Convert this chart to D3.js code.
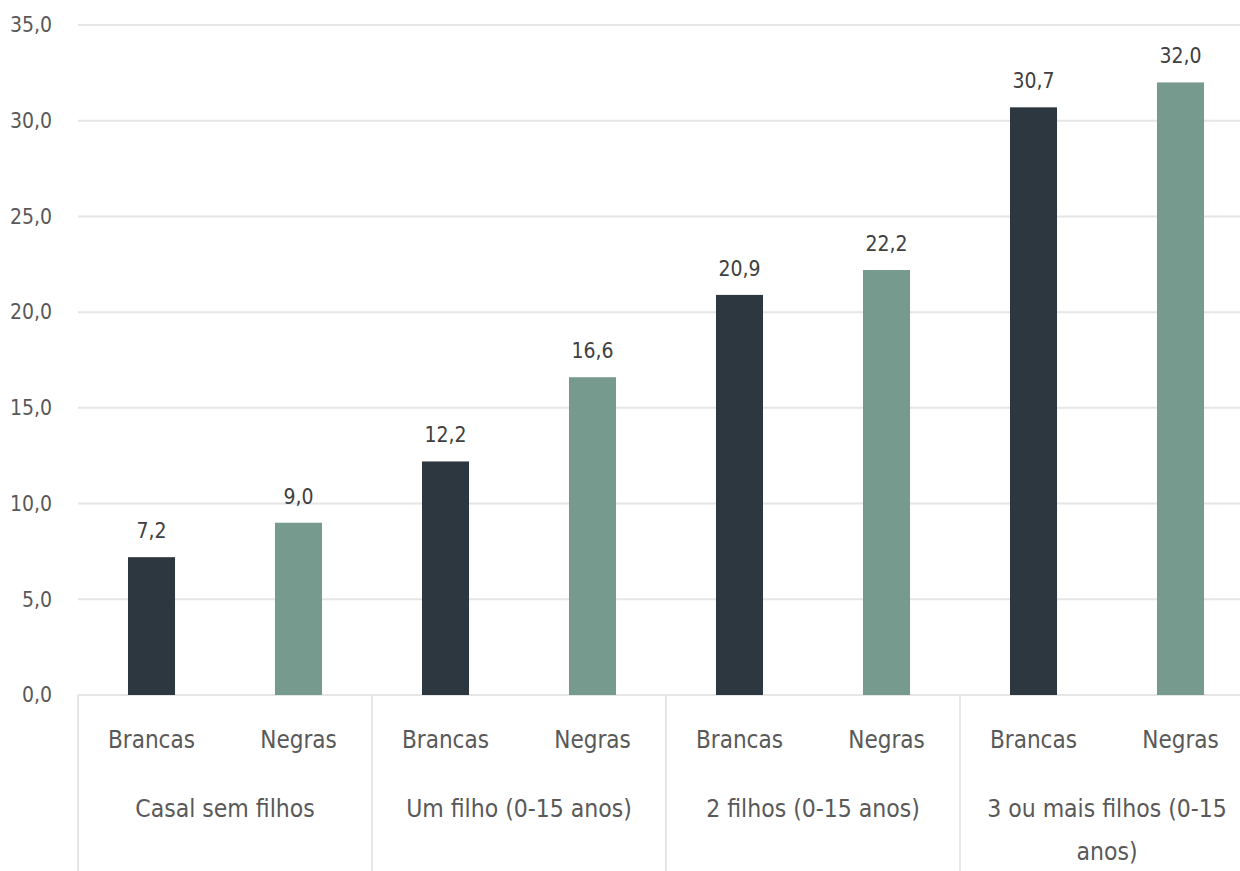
<!DOCTYPE html>
<html><head><meta charset="utf-8">
<script src="https://cdn.jsdelivr.net/npm/d3@7"></script>
<style>
body{margin:0;background:#fff;}
svg{display:block;font-family:"DejaVu Sans Condensed","DejaVu Sans",sans-serif;font-stretch:condensed;}
</style></head>
<body><svg id="c" width="1240" height="871"></svg>
<script>
const groups = ["Casal sem filhos","Um filho (0-15 anos)","2 filhos (0-15 anos)","3 ou mais filhos (0-15 anos)"];
const groupLines = [["Casal sem filhos"],["Um filho (0-15 anos)"],["2 filhos (0-15 anos)"],["3 ou mais filhos (0-15","anos)"]];
const series = ["Brancas","Negras"];
const brancas = [7.2,12.2,20.9,30.7];
const negras = [9.0,16.6,22.2,32.0];
const yTicks = [0,5,10,15,20,25,30,35];
const colors = ["#2d3740","#779a8e"];

const svg = d3.select("#c");
const mLeft = 78, mRight = 1254, mTop = 25, mBottom = 695;
const fmt = d => d.toFixed(1).replace(".", ",");
const y = d3.scaleLinear().domain([0,35]).range([mBottom, mTop]);
const x0 = d3.scaleBand().domain(groups).range([mLeft,mRight]);
const x1 = d3.scaleBand().domain(series).range([0,x0.bandwidth()]).paddingInner(0.68).paddingOuter(0.34);

// gridlines
svg.append("g").selectAll("line").data(yTicks).join("line")
  .attr("x1",mLeft).attr("x2",1240).attr("y1",d=>y(d)).attr("y2",d=>y(d))
  .attr("stroke","#e6e6e6").attr("stroke-width",2);

// y labels
svg.append("g").selectAll("text").data(yTicks).join("text")
  .attr("x",52).attr("y",d=>y(d)).attr("dy","0.35em").attr("text-anchor","end")
  .attr("font-size",21).attr("fill","#595959").text(fmt);

// separators
svg.append("g").selectAll("line").data(groups).join("line")
  .attr("x1",d=>x0(d)).attr("x2",d=>x0(d)).attr("y1",mBottom).attr("y2",871)
  .attr("stroke","#e6e6e6").attr("stroke-width",2);

const data = [];
groups.forEach((g,i)=>{
  data.push({g,s:"Brancas",v:brancas[i]});
  data.push({g,s:"Negras",v:negras[i]});
});

svg.append("g").selectAll("rect").data(data).join("rect")
  .attr("x",d=>x0(d.g)+x1(d.s)).attr("width",x1.bandwidth())
  .attr("y",d=>y(d.v)).attr("height",d=>y(0)-y(d.v))
  .attr("fill",d=>colors[series.indexOf(d.s)]);

svg.append("g").selectAll("text").data(data).join("text")
  .attr("x",d=>x0(d.g)+x1(d.s)+x1.bandwidth()/2).attr("y",d=>y(d.v)-19)
  .attr("text-anchor","middle").attr("font-size",21).attr("fill","#404040").text(d=>fmt(d.v));

// series labels
svg.append("g").selectAll("text").data(data).join("text")
  .attr("x",d=>x0(d.g)+x1(d.s)+x1.bandwidth()/2).attr("y",748)
  .attr("text-anchor","middle").attr("font-size",24).attr("fill","#595959").text(d=>d.s);

// group labels
const gl = svg.append("g").selectAll("text").data(groups).join("text")
  .attr("x",d=>x0(d)+x0.bandwidth()/2).attr("y",817)
  .attr("text-anchor","middle").attr("font-size",24.5).attr("fill","#595959");
gl.each(function(d,i){
  const t = d3.select(this);
  groupLines[i].forEach((ln,j)=>{
    t.append("tspan").attr("x",x0(d)+x0.bandwidth()/2).attr("dy",j===0?0:43).text(ln);
  });
});
</script></body></html>
